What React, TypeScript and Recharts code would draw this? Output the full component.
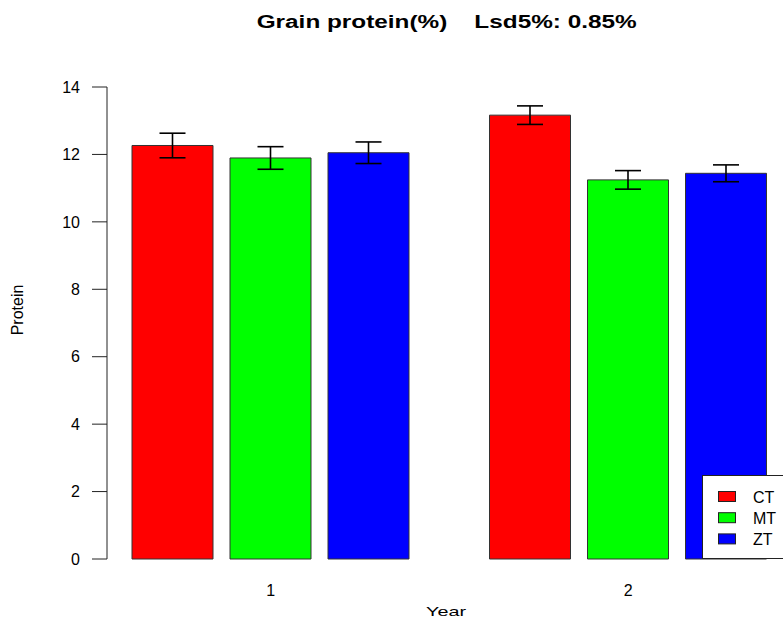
import React from 'react';
import { BarChart, Bar, XAxis, YAxis, ErrorBar } from 'recharts';

const categories = ['1', '2'];
const ctValues = [12.265, 13.165];
const mtValues = [11.895, 11.245];
const ztValues = [12.05, 11.44];
const ctErrors = [0.365, 0.275];
const mtErrors = [0.335, 0.275];
const ztErrors = [0.32, 0.25];
const yTicks = [0, 2, 4, 6, 8, 10, 12, 14];
const seriesNames = ['CT', 'MT', 'ZT'];
const seriesColors = ['#ff0000', '#00ff00', '#0000ff'];
const titleText = 'Grain protein(%)    Lsd5%: 0.85%';

const data = categories.map((c, i) => ({
  year: c,
  CT: ctValues[i],
  MT: mtValues[i],
  ZT: ztValues[i],
  CTerr: ctErrors[i],
  MTerr: mtErrors[i],
  ZTerr: ztErrors[i],
}));

const FONT = '"Liberation Sans", Arial, sans-serif';

const YTick = (props: any) => {
  const { x, y, payload } = props;
  return (
    <text x={x} y={y} dy="0.36em" textAnchor="end" fontSize={16} fontFamily={FONT} fill="#000">
      {payload.value}
    </text>
  );
};

const XTick = (props: any) => {
  const { x, y, payload } = props;
  return (
    <text x={x} y={y + 36.5} textAnchor="middle" fontSize={16} fontFamily={FONT} fill="#000">
      {payload.value}
    </text>
  );
};

export default function App() {
  return (
    <div style={{ position: 'absolute', left: 0, top: 0, width: 783, height: 618, overflow: 'hidden', background: '#fff' }}>
      <BarChart
        width={807}
        height={618}
        data={data}
        margin={{ top: 87, right: 0, bottom: 0, left: 0 }}
        barSize={81}
        barGap={17}
      >
        <XAxis
          dataKey="year"
          axisLine={false}
          tickLine={false}
          tickSize={0}
          tickMargin={0}
          height={59}
          padding={{ left: -15, right: 0 }}
          tick={<XTick />}
        />
        <YAxis
          width={107}
          domain={[0, 14]}
          ticks={yTicks}
          type="number"
          interval={0}
          tickSize={15}
          tickMargin={12}
          stroke="#222"
          axisLine={{ stroke: '#222', strokeWidth: 1 }}
          tickLine={{ stroke: '#222', strokeWidth: 1 }}
          tick={<YTick />}
        />
        {seriesNames.map((name, i) => (
          <Bar key={name} dataKey={name} fill={seriesColors[i]} stroke="#333" strokeWidth={1} isAnimationActive={false}>
            <ErrorBar dataKey={name + 'err'} width={13} stroke="#000" strokeWidth={1.6} direction="y" />
          </Bar>
        ))}
      </BarChart>
      <svg width={783} height={618} style={{ position: 'absolute', left: 0, top: 0, pointerEvents: 'none' }}>
        <text x={446.7} y={28} textAnchor="middle" fontSize={18} fontWeight="bold" fontFamily={FONT} fill="#000"
          textLength={380} lengthAdjust="spacingAndGlyphs" style={{ whiteSpace: 'pre' }} xmlSpace="preserve">
          {titleText}
        </text>
        <text x={446} y={616} textAnchor="middle" fontSize={13} fontFamily={FONT} fill="#000"
          textLength={40} lengthAdjust="spacingAndGlyphs">
          Year
        </text>
        <text x={22.5} y={310} transform="rotate(-90 22.5 310)" textAnchor="middle" fontSize={16} fontFamily={FONT} fill="#000">
          Protein
        </text>
        <rect x={702.5} y={475.5} width={100} height={83} fill="#fff" stroke="#222" strokeWidth={1} />
        {seriesNames.map((name, i) => (
          <g key={name}>
            <rect x={718.5} y={491.5 + i * 21.2} width={17} height={10} fill={seriesColors[i]} stroke="#222" strokeWidth={1} />
            <text x={753} y={502.5 + i * 21.2} fontSize={16} fontFamily={FONT} fill="#000">
              {name}
            </text>
          </g>
        ))}
      </svg>
    </div>
  );
}
